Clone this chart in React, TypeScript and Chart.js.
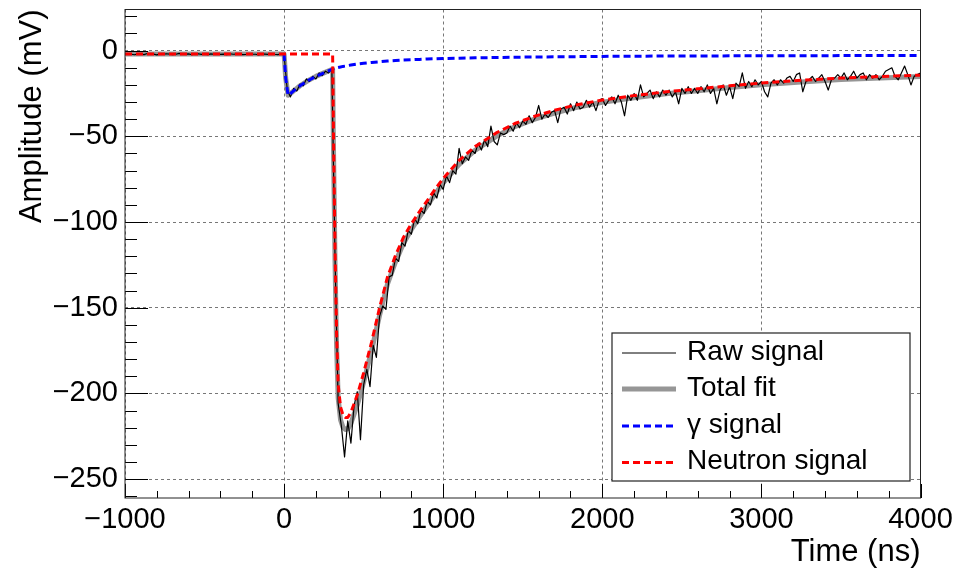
import React, { useEffect, useRef } from 'react';
import { Chart, registerables } from 'chart.js';

Chart.register(...registerables);

// ---------- data ----------
const fitTime = [-1000, 0, 10, 25, 40, 60, 80, 100, 150, 200, 250, 300, 305, 310, 320, 330, 340, 355, 370, 385, 400, 420, 440, 463, 500, 550, 600, 650, 700, 750, 800, 850, 900, 950, 1000, 1100, 1200, 1333, 1450, 1575, 1700, 1826, 2000, 2200, 2400, 2600, 2800, 3000, 3250, 3500, 3750, 4000];

const gammaFit = [null, -2, -16, -26, -25, -23.5, -22, -20.5, -17.5, -15, -13, -11, -10.8, -10.6, -10.3, -10, -9.8, -9.5, -9.2, -9, -8.7, -8.4, -8.1, -7.8, -7.4, -6.9, -6.5, -6.1, -5.8, -5.5, -5.3, -5.1, -4.9, -4.75, -4.6, -4.4, -4.2, -4.0, -3.85, -3.7, -3.6, -3.5, -3.35, -3.25, -3.15, -3.1, -3.05, -3.0, -2.95, -2.9, -2.9, -2.85];

const neutronFit = [-2, -2, -2, -2, -2, -2, -2, -2, -2, -2, -2, -2, -2, -45, -115, -165, -195, -208, -212.5, -214, -214, -211, -206, -200, -188, -170, -150, -132, -119.5, -109, -101, -94, -87.5, -80.8, -74.5, -64, -56, -48, -42.5, -38.3, -34.8, -31.8, -28.8, -26.2, -24, -22.3, -20.5, -18.9, -17.3, -16, -15.1, -14.3];

const totalFit = [-2, -2, -16, -26, -25, -23.5, -22, -20.5, -17.5, -15, -13, -11, -10.8, -53.6, -123.3, -173, -202.8, -215.5, -219.7, -221, -220.7, -217.4, -212.1, -205.8, -193.4, -174.9, -154.5, -136.1, -123.3, -112.5, -104.3, -97.1, -90.4, -83.55, -77.1, -66.4, -58.2, -50, -44.35, -40, -36.4, -33.3, -30.15, -27.45, -25.15, -23.4, -21.55, -19.9, -18.25, -16.9, -16, -15.15];

// raw waveform, sampled every RAW_DT ns starting at RAW_T0
const RAW_T0 = -1000;
const RAW_DT = 20;
const rawPreTrigger = [
  -2.2, -1.8, -2.1, -2.4, -1.9, -2.0, -2.3, -1.7, -2.1, -2.0,
  -2.5, -1.9, -2.2, -1.8, -2.0, -2.3, -2.1, -1.6, -2.2, -2.0,
  -1.9, -2.4, -2.1, -1.8, -2.2, -2.0, -2.3, -1.9, -2.1, -1.7,
  -2.2, -2.0, -2.4, -1.8, -2.1, -2.0, -1.9, -2.3, -2.2, -1.8,
  -2.0, -2.1, -2.5, -1.9, -2.0, -2.2, -1.8, -2.1, -2.3, -2.0,
];
const rawSignal = [
  -2.5, -23, -27, -22, -23.5, -19.5, -20.5, -16.5, -18, -15,
  -16.5, -13, -14.5, -12, -13, -10.5, -120, -206, -219, -237,
  -216, -229, -207, -199, -227, -195, -186, -196, -172, -179,
  -155, -149, -151, -132, -131, -121, -123, -112, -114, -105,
  -107, -98, -101, -93, -95, -88, -90, -83, -86, -78,
  -81, -73, -77, -70, -72, -57, -66, -62, -64, -58,
  -60, -54, -58, -52, -56, -44, -53, -55, -48, -49,
  -48, -44, -47, -42, -45, -41, -43, -38, -42, -39,
  -32, -40, -37, -39, -36, -35, -42, -34, -33, -37,
  -31, -35, -30, -34, -33, -29, -33, -30, -35, -29,
  -28, -32, -29, -27, -31, -26, -30, -38, -26, -29,
  -25, -29, -20, -27, -25, -23, -28, -24, -27, -23,
  -26, -23, -27, -24, -31, -22, -25, -21, -25, -22,
  -25, -21, -24, -20, -25, -22, -31, -23, -20, -26,
  -21, -28, -19, -21, -13, -22, -18, -21, -17, -20,
  -18, -24, -27, -19, -17, -20, -17, -19, -16, -15,
  -18, -14, -13, -24, -18, -17, -15, -18, -16, -14,
  -18, -23, -17, -16, -14, -16, -13, -17, -15, -12,
  -16, -14, -13, -17, -14, -16, -14, -17, -15, -12,
  -11, -10, -15, -17, -13, -9, -14, -20, -15, -14,
  -13,
];

const xTickValues = [-1000, 0, 1000, 2000, 3000, 4000];
const yTickValues = [-250, -200, -150, -100, -50, 0];
const legendLabels = ['Raw signal', 'Total fit', '\u03B3 signal', 'Neutron signal'];

const X_MIN = -1000;
const X_MAX = 4000;
const Y_MIN = -261;
const Y_MAX = 24;
const X_MINOR_STEP = 200;
const Y_MINOR_STEP = 10;

const FONT = "'Liberation Sans', Arial, Helvetica, sans-serif";
const fmt = (v: number) => String(v).replace('-', '\u2212');

const styles = {
  raw: { color: '#000000', width: 1.2, dash: [] as number[] },
  total: { color: 'rgb(150,150,150)', width: 5, dash: [] as number[] },
  gamma: { color: '#0000ff', width: 3, dash: [7, 4] },
  neutron: { color: '#ff0000', width: 3, dash: [7, 4] },
};

const rootPlugin = {
  id: 'rootStyle',
  afterDatasetsDraw(chart: any) {
    const { ctx, chartArea: a, scales } = chart;
    const xs = scales.x;
    const ys = scales.y;
    ctx.save();
    ctx.strokeStyle = '#000';
    ctx.lineWidth = 1;
    ctx.setLineDash([]);
    ctx.beginPath();
    for (let v = X_MIN; v <= X_MAX; v += X_MINOR_STEP) {
      const px = Math.round(xs.getPixelForValue(v)) + 0.5;
      const len = v % 1000 === 0 ? 14 : 7;
      ctx.moveTo(px, a.bottom);
      ctx.lineTo(px, a.bottom - len);
    }
    for (let v = Math.ceil(Y_MIN / Y_MINOR_STEP) * Y_MINOR_STEP; v <= Y_MAX; v += Y_MINOR_STEP) {
      const py = Math.round(ys.getPixelForValue(v)) + 0.5;
      const len = v % 50 === 0 ? 23 : 12;
      ctx.moveTo(a.left, py);
      ctx.lineTo(a.left + len, py);
    }
    ctx.stroke();
    ctx.strokeStyle = '#222';
    ctx.strokeRect(a.left, a.top, a.right - a.left, a.bottom - a.top);
    ctx.restore();
  },
  afterDraw(chart: any) {
    const { ctx } = chart;
    const bx = 612, by = 333, bw = 298, bh = 148;
    ctx.save();
    ctx.fillStyle = '#fff';
    ctx.fillRect(bx, by, bw, bh);
    ctx.strokeStyle = '#222';
    ctx.lineWidth = 1.2;
    ctx.setLineDash([]);
    ctx.strokeRect(bx, by, bw, bh);
    const st = [styles.raw, styles.total, styles.gamma, styles.neutron];
    const rowY = [353, 389, 426, 462.5];
    ctx.font = `28px ${FONT}`;
    ctx.textBaseline = 'middle';
    ctx.textAlign = 'left';
    legendLabels.forEach((lab, i) => {
      const s = st[i];
      ctx.strokeStyle = s.color;
      ctx.lineWidth = i === 0 ? 1 : s.width;
      ctx.setLineDash(s.dash);
      ctx.beginPath();
      ctx.moveTo(622, rowY[i]);
      ctx.lineTo(676, rowY[i]);
      ctx.stroke();
      ctx.fillStyle = '#000';
      ctx.fillText(lab, 687, rowY[i] - 1);
    });
    ctx.restore();
  },
};

export default function App() {
  const canvasRef = useRef<HTMLCanvasElement | null>(null);

  useEffect(() => {
    document.body.style.margin = '0';
    const canvas = canvasRef.current;
    if (!canvas) return;

    const toPts = (vals: (number | null)[]) => fitTime.map((t, i) => ({ x: t, y: vals[i] }));
    const rawValues = [...rawPreTrigger, ...rawSignal];
    const rawPts = rawValues.map((v, i) => ({ x: RAW_T0 + i * RAW_DT, y: v }));

    const ds = (label: string, data: any[], s: any) => ({
      label,
      data,
      borderColor: s.color,
      backgroundColor: s.color,
      borderWidth: s.width,
      borderDash: s.dash,
      pointRadius: 0,
      tension: 0,
      fill: false,
      spanGaps: false,
      borderJoinStyle: 'round',
    });

    // first dataset is drawn on top
    const chart = new Chart(canvas, {
      type: 'line',
      data: {
        datasets: [
          ds(legendLabels[3], toPts(neutronFit), styles.neutron),
          ds(legendLabels[2], toPts(gammaFit), styles.gamma),
          ds(legendLabels[0], rawPts, styles.raw),
          ds(legendLabels[1], toPts(totalFit), styles.total),
        ] as any,
      },
      options: {
        animation: false,
        responsive: false,
        devicePixelRatio: 1,
        layout: { padding: { left: 0, top: 9.5, right: 40.5, bottom: 0 } },
        plugins: { legend: { display: false }, tooltip: { enabled: false } },
        scales: {
          x: {
            type: 'linear',
            min: X_MIN,
            max: X_MAX,
            afterBuildTicks: (scale: any) => {
              scale.ticks = xTickValues.map((v) => ({ value: v }));
            },
            afterFit: (scale: any) => {
              scale.height = 71;
              scale.paddingLeft = 0;
              scale.paddingRight = 0;
            },
            grid: { color: '#777', lineWidth: 1, drawTicks: false },
            border: { display: false, dash: [3, 3] },
            ticks: {
              autoSkip: false,
              maxRotation: 0,
              padding: 5,
              color: '#000',
              font: { size: 29, family: FONT },
              callback: (v: any) => fmt(Number(v)),
            },
            title: {
              display: true,
              text: 'Time (ns)',
              align: 'end',
              color: '#000',
              font: { size: 31, family: FONT, lineHeight: 1 },
              padding: { top: 0, bottom: 1.5 },
            },
          },
          y: {
            type: 'linear',
            min: Y_MIN,
            max: Y_MAX,
            afterBuildTicks: (scale: any) => {
              scale.ticks = yTickValues.map((v) => ({ value: v }));
            },
            afterFit: (scale: any) => {
              scale.width = 125;
              scale.paddingTop = 0;
              scale.paddingBottom = 0;
            },
            grid: { color: '#777', lineWidth: 1, drawTicks: false },
            border: { display: false, dash: [3, 3] },
            ticks: {
              autoSkip: false,
              padding: 7,
              color: '#000',
              font: { size: 29, family: FONT },
              callback: (v: any) => fmt(Number(v)),
            },
            title: {
              display: true,
              text: 'Amplitude (mV)',
              align: 'end',
              color: '#000',
              font: { size: 31, family: FONT, lineHeight: 1 },
              padding: { top: 16.5, bottom: 0 },
            },
          },
        },
      },
      plugins: [rootPlugin],
    } as any);

    return () => {
      chart.destroy();
    };
  }, []);

  return (
    <div style={{ width: 961, height: 569, position: 'relative', background: '#fff' }}>
      <canvas ref={canvasRef} width={961} height={569} />
    </div>
  );
}
